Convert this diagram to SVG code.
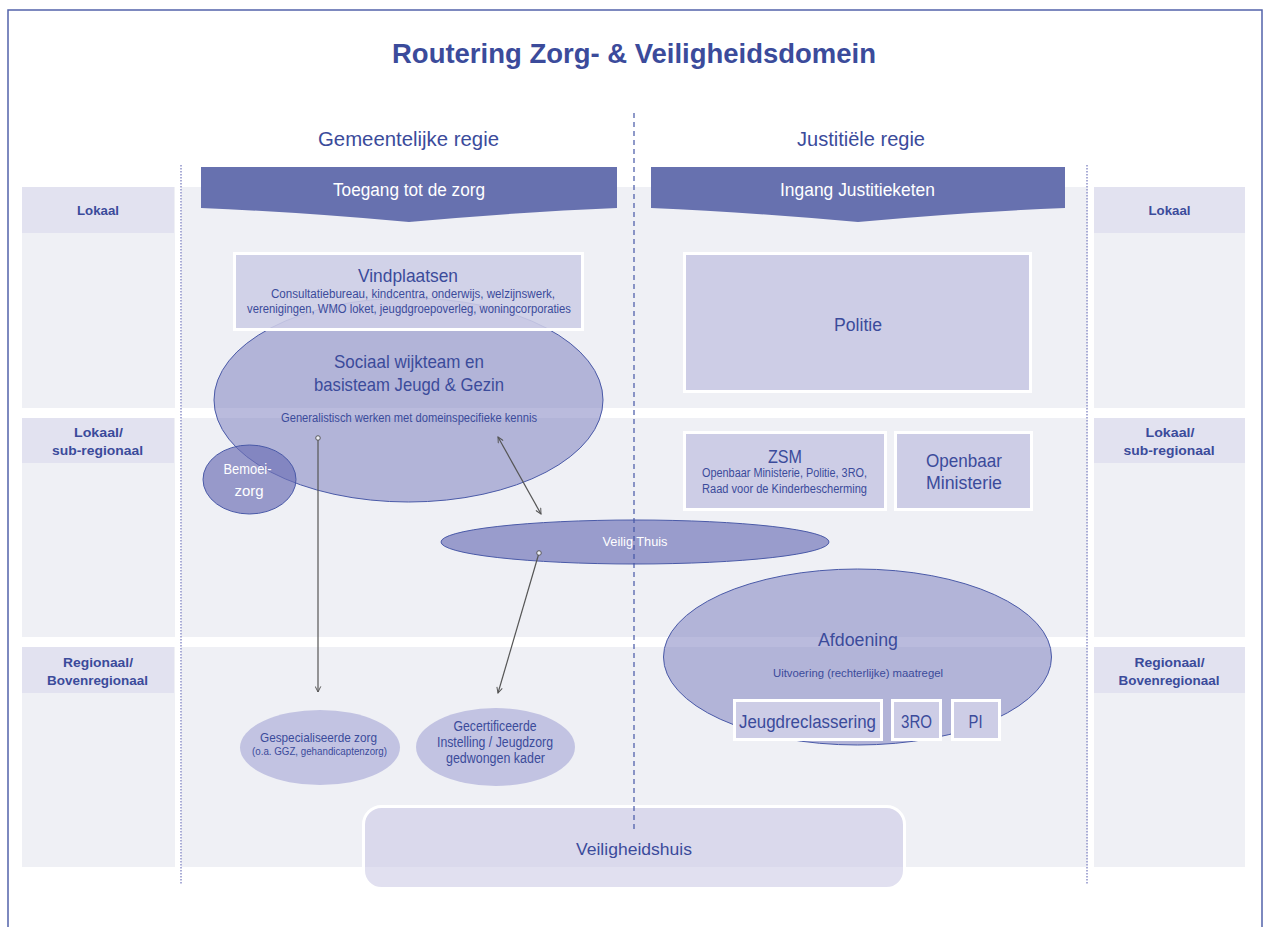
<svg xmlns="http://www.w3.org/2000/svg" width="1266" height="927" viewBox="0 0 1266 927">
<style>
text{font-family:"Liberation Sans",Arial,sans-serif;fill:#3b4b9b;text-anchor:middle}
.w{fill:#ffffff}
.b{font-weight:bold}
.band{fill:#eff0f5}
.lab{fill:#e2e2f0}
.box{fill:#cdcde6;stroke:#ffffff;stroke-width:3}
.chev{fill:#6771af}
.ell{fill:#7578bb;fill-opacity:0.5;stroke:#4a5aa8;stroke-width:1}
.sub{fill:#c2c3e2}
.con{stroke:#555;stroke-width:1.2;fill:none}
</style>
<defs>
<marker id="arr" viewBox="0 0 10 10" refX="9" refY="5" markerWidth="7" markerHeight="7" markerUnits="userSpaceOnUse" orient="auto-start-reverse"><path d="M1,1 L9,5 L1,9" fill="none" stroke="#555" stroke-width="1.4"/></marker>
<marker id="dot" viewBox="0 0 8 8" refX="4" refY="4" markerWidth="7" markerHeight="7" markerUnits="userSpaceOnUse"><circle cx="4" cy="4" r="2.6" fill="#eef0f8" stroke="#555" stroke-width="1.1"/></marker>
</defs>
<rect width="1266" height="927" fill="#ffffff"/>
<g id="frame" stroke="#5363aa" stroke-width="1.5" fill="none">
<path d="M8,927 V10 H1262 V927"/>
</g>
<g id="bands">
<rect class="band" x="22" y="187" width="153" height="221"/>
<rect class="band" x="181" y="187" width="907" height="221"/>
<rect class="band" x="1094" y="187" width="151" height="221"/>
<rect class="band" x="22" y="418" width="153" height="219"/>
<rect class="band" x="181" y="418" width="907" height="219"/>
<rect class="band" x="1094" y="418" width="151" height="219"/>
<rect class="band" x="22" y="647" width="153" height="220"/>
<rect class="band" x="181" y="647" width="907" height="220"/>
<rect class="band" x="1094" y="647" width="151" height="220"/>
</g>
<g id="levels">
<rect class="lab" x="22" y="187" width="152" height="46"/>
<rect class="lab" x="22" y="418" width="152" height="45"/>
<rect class="lab" x="22" y="647" width="152" height="46"/>
<rect class="lab" x="1094" y="187" width="151" height="46"/>
<rect class="lab" x="1094" y="418" width="151" height="45"/>
<rect class="lab" x="1094" y="647" width="151" height="46"/>
<text class="b" x="98" y="215" font-size="13.5" textLength="42" lengthAdjust="spacingAndGlyphs">Lokaal</text>
<text class="b" x="98.5" y="437" font-size="13.5" textLength="49" lengthAdjust="spacingAndGlyphs">Lokaal/</text>
<text class="b" x="97.5" y="455" font-size="13.5" textLength="91" lengthAdjust="spacingAndGlyphs">sub-regionaal</text>
<text class="b" x="98" y="667" font-size="13.5" textLength="70" lengthAdjust="spacingAndGlyphs">Regionaal/</text>
<text class="b" x="97.5" y="685" font-size="13.5" textLength="101" lengthAdjust="spacingAndGlyphs">Bovenregionaal</text>
<text class="b" x="1169.5" y="215" font-size="13.5" textLength="42" lengthAdjust="spacingAndGlyphs">Lokaal</text>
<text class="b" x="1170" y="437" font-size="13.5" textLength="49" lengthAdjust="spacingAndGlyphs">Lokaal/</text>
<text class="b" x="1169" y="455" font-size="13.5" textLength="91" lengthAdjust="spacingAndGlyphs">sub-regionaal</text>
<text class="b" x="1169.5" y="667" font-size="13.5" textLength="70" lengthAdjust="spacingAndGlyphs">Regionaal/</text>
<text class="b" x="1169" y="685" font-size="13.5" textLength="101" lengthAdjust="spacingAndGlyphs">Bovenregionaal</text>
</g>
<g id="dividers" fill="none">
<line x1="181" y1="165" x2="181" y2="885" stroke="#a9acd6" stroke-width="2" stroke-dasharray="1.5 1.5"/>
<line x1="1087" y1="165" x2="1087" y2="885" stroke="#a9acd6" stroke-width="2" stroke-dasharray="1.5 1.5"/>
</g>
<g id="title">
<text class="b" x="634" y="63" font-size="28" textLength="484" lengthAdjust="spacingAndGlyphs">Routering Zorg- &amp; Veiligheidsdomein</text>
<text x="408.5" y="146" font-size="20" textLength="181" lengthAdjust="spacingAndGlyphs">Gemeentelijke regie</text>
<text x="861" y="146" font-size="20" textLength="128" lengthAdjust="spacingAndGlyphs">Justitiële regie</text>
</g>
<g id="toegang">
<path class="chev" d="M201,167 H617 V208 Q520,212 409,222 Q300,212 201,208 Z"/>
<text class="w" x="409" y="196" font-size="18" textLength="152" lengthAdjust="spacingAndGlyphs">Toegang tot de zorg</text>
</g>
<g id="ingang">
<path class="chev" d="M651,167 H1065 V208 Q968,212 858,222 Q748,212 651,208 Z"/>
<text class="w" x="857.5" y="196" font-size="18" textLength="155" lengthAdjust="spacingAndGlyphs">Ingang Justitieketen</text>
</g>
<g id="sociaal">
<ellipse class="ell" cx="408.5" cy="400" rx="194.5" ry="102"/>
<text x="409" y="368" font-size="19" textLength="150" lengthAdjust="spacingAndGlyphs">Sociaal wijkteam en</text>
<text x="409" y="391" font-size="19" textLength="190" lengthAdjust="spacingAndGlyphs">basisteam Jeugd &amp; Gezin</text>
<text x="409" y="422" font-size="12" textLength="256" lengthAdjust="spacingAndGlyphs">Generalistisch werken met domeinspecifieke kennis</text>
</g>
<g id="vindplaatsen">
<rect class="box" x="234.5" y="253.5" width="348" height="76" fill-opacity="0.88"/>
<text x="408" y="282" font-size="19" textLength="100" lengthAdjust="spacingAndGlyphs">Vindplaatsen</text>
<text x="413" y="298" font-size="12" textLength="284" lengthAdjust="spacingAndGlyphs">Consultatiebureau, kindcentra, onderwijs, welzijnswerk,</text>
<text x="409" y="313" font-size="12" textLength="324" lengthAdjust="spacingAndGlyphs">verenigingen, WMO loket, jeugdgroepoverleg, woningcorporaties</text>
</g>
<g id="bemoeizorg">
<ellipse cx="249.5" cy="479.5" rx="46.5" ry="34.5" fill="#6d70b5" fill-opacity="0.68" stroke="#4a5aa8" stroke-width="1"/>
<text class="w" x="247.5" y="474" font-size="15" textLength="48" lengthAdjust="spacingAndGlyphs">Bemoei-</text>
<text class="w" x="249" y="496" font-size="15">zorg</text>
</g>
<g id="veiligthuis">
<ellipse cx="635" cy="542" rx="194" ry="22" fill="#7578bb" fill-opacity="0.7" stroke="#4a5aa8" stroke-width="1"/>
<text class="w" x="635" y="546" font-size="13" textLength="65" lengthAdjust="spacingAndGlyphs">Veilig Thuis</text>
</g>
<g id="politie">
<rect class="box" x="684.5" y="253.5" width="346" height="138"/>
<text x="858" y="331" font-size="18" textLength="48" lengthAdjust="spacingAndGlyphs">Politie</text>
</g>
<g id="zsm">
<rect class="box" x="684.5" y="432.5" width="201" height="77"/>
<text x="785" y="463" font-size="19" textLength="34" lengthAdjust="spacingAndGlyphs">ZSM</text>
<text x="784.5" y="477" font-size="12" textLength="165" lengthAdjust="spacingAndGlyphs">Openbaar Ministerie, Politie, 3RO,</text>
<text x="784.5" y="493" font-size="12" textLength="165" lengthAdjust="spacingAndGlyphs">Raad voor de Kinderbescherming</text>
</g>
<g id="om">
<rect class="box" x="895.5" y="432.5" width="136" height="77"/>
<text x="964" y="467" font-size="19" textLength="76" lengthAdjust="spacingAndGlyphs">Openbaar</text>
<text x="964" y="489" font-size="19" textLength="76" lengthAdjust="spacingAndGlyphs">Ministerie</text>
</g>
<g id="afdoening">
<ellipse class="ell" cx="857.5" cy="657" rx="194" ry="88"/>
<text x="858" y="646" font-size="18" textLength="80" lengthAdjust="spacingAndGlyphs">Afdoening</text>
<text x="858" y="677" font-size="11" textLength="170" lengthAdjust="spacingAndGlyphs">Uitvoering (rechterlijke) maatregel</text>
</g>
<g id="jeugdreclassering">
<rect class="box" x="734.5" y="700.5" width="147" height="39"/>
<text x="807.5" y="728" font-size="18" textLength="137" lengthAdjust="spacingAndGlyphs">Jeugdreclassering</text>
</g>
<g id="dro">
<rect class="box" x="892.5" y="700.5" width="48" height="39"/>
<text x="916.5" y="728" font-size="18" textLength="31" lengthAdjust="spacingAndGlyphs">3RO</text>
</g>
<g id="pi">
<rect class="box" x="952.5" y="700.5" width="47" height="39"/>
<text x="975.5" y="728" font-size="18" textLength="14" lengthAdjust="spacingAndGlyphs">PI</text>
</g>
<g id="gespecialiseerd">
<ellipse class="sub" cx="320" cy="747.5" rx="80" ry="37.5"/>
<text x="318.5" y="742" font-size="13.5" textLength="117" lengthAdjust="spacingAndGlyphs">Gespecialiseerde zorg</text>
<text x="319.5" y="755" font-size="10.5" textLength="135" lengthAdjust="spacingAndGlyphs">(o.a. GGZ, gehandicaptenzorg)</text>
</g>
<g id="gecertificeerd">
<ellipse class="sub" cx="495.5" cy="747" rx="79.5" ry="39"/>
<text x="495" y="731" font-size="14" textLength="83" lengthAdjust="spacingAndGlyphs">Gecertificeerde</text>
<text x="495" y="747" font-size="14" textLength="116" lengthAdjust="spacingAndGlyphs">Instelling / Jeugdzorg</text>
<text x="495.5" y="763" font-size="14" textLength="99" lengthAdjust="spacingAndGlyphs">gedwongen kader</text>
</g>
<g id="veiligheidshuis">
<rect x="363.5" y="806.5" width="541" height="82" rx="18" fill="#c8c7e4" fill-opacity="0.55" stroke="#ffffff" stroke-width="3"/>
<text x="634" y="855" font-size="17" textLength="116" lengthAdjust="spacingAndGlyphs">Veiligheidshuis</text>
</g>
<g id="centerline">
<line x1="634" y1="113" x2="634" y2="833" stroke="#4556a6" stroke-width="1.2" stroke-dasharray="5 4"/>
</g>
<g id="connectors">
<line class="con" x1="318" y1="438" x2="318" y2="692" marker-start="url(#dot)" marker-end="url(#arr)"/>
<line class="con" x1="498" y1="437" x2="541" y2="514" marker-start="url(#arr)" marker-end="url(#arr)"/>
<line class="con" x1="539" y1="553" x2="498" y2="693" marker-start="url(#dot)" marker-end="url(#arr)"/>
</g>
</svg>
